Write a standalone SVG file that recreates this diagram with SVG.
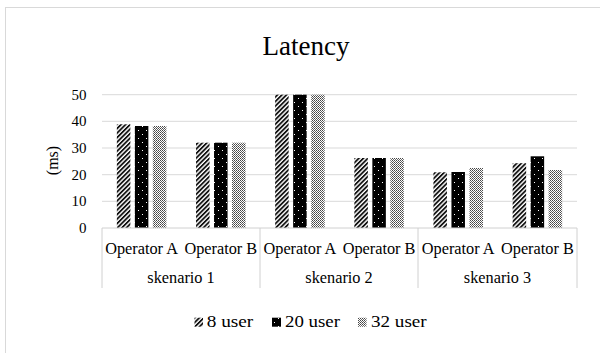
<svg xmlns="http://www.w3.org/2000/svg" width="600" height="353" viewBox="0 0 600 353" font-family="'Liberation Serif', 'Times New Roman', serif">
<style>
text{fill:#000}
.grid{stroke:#d9d9d9;stroke-width:1;fill:none}
.axis{stroke:#d0d0d0;stroke-width:1;fill:none}
.tick{font-size:15px;text-anchor:end}
.cat{font-size:16.3px;text-anchor:middle}
.leg{font-size:16.5px}
.s8{fill:url(#p8)}
.s20{fill:url(#p20)}
.s32{fill:url(#p32)}
</style>
<defs>
<pattern id="p8" patternUnits="userSpaceOnUse" width="3.2" height="3.2" patternTransform="rotate(45)">
<rect width="3.2" height="3.2" fill="#fff"/>
<rect width="1.8" height="3.2" fill="#111"/>
</pattern>
<pattern id="p20" patternUnits="userSpaceOnUse" width="8" height="8">
<rect width="8" height="8" fill="#000"/>
<rect x="2" y="2" width="1" height="1" fill="#fff"/>
<rect x="6" y="6" width="1" height="1" fill="#fff"/>
</pattern>
<pattern id="p32" patternUnits="userSpaceOnUse" width="2" height="2">
<rect width="2" height="2" fill="#fff"/>
<rect width="1" height="1" fill="#444"/>
<rect x="1" y="1" width="1" height="1" fill="#666"/>
</pattern>
</defs>
<rect x="0" y="0" width="600" height="353" fill="#fff"/>
<rect x="5.5" y="7.5" width="620" height="360" fill="#fff" stroke="#d9d9d9" stroke-width="1"/>
<text id="title" x="306" y="54.5" font-size="27" text-anchor="middle">Latency</text>
<g id="gridlines">
<line class="grid" x1="102" y1="94.7" x2="577" y2="94.7"/>
<line class="grid" x1="102" y1="121.3" x2="577" y2="121.3"/>
<line class="grid" x1="102" y1="148" x2="577" y2="148"/>
<line class="grid" x1="102" y1="174.7" x2="577" y2="174.7"/>
<line class="grid" x1="102" y1="201.3" x2="577" y2="201.3"/>
</g>
<g id="y-axis">
<text class="tick" x="86.5" y="99.7">50</text>
<text class="tick" x="86.5" y="126.3">40</text>
<text class="tick" x="86.5" y="153">30</text>
<text class="tick" x="86.5" y="179.7">20</text>
<text class="tick" x="86.5" y="206.3">10</text>
<text class="tick" x="86.5" y="233">0</text>
<text x="0" y="0" font-size="16" text-anchor="middle" transform="translate(57.5,160.5) rotate(-90)">(ms)</text>
</g>
<g id="bars">
<rect class="s8" x="116.85" y="124.3" width="13.5" height="103.7"/>
<rect class="s20" x="134.85" y="126" width="13.5" height="102"/>
<rect class="s32" x="152.85" y="126" width="13.5" height="102"/>
<rect class="s8" x="196.05" y="142.7" width="13.5" height="85.3"/>
<rect class="s20" x="214.05" y="142.7" width="13.5" height="85.3"/>
<rect class="s32" x="232.05" y="142.7" width="13.5" height="85.3"/>
<rect class="s8" x="275.15" y="94.7" width="13.5" height="133.3"/>
<rect class="s20" x="293.15" y="94.7" width="13.5" height="133.3"/>
<rect class="s32" x="311.15" y="94.7" width="13.5" height="133.3"/>
<rect class="s8" x="354.35" y="158" width="13.5" height="70"/>
<rect class="s20" x="372.35" y="158" width="13.5" height="70"/>
<rect class="s32" x="390.35" y="158" width="13.5" height="70"/>
<rect class="s8" x="433.45" y="172.3" width="13.5" height="55.7"/>
<rect class="s20" x="451.45" y="172" width="13.5" height="56"/>
<rect class="s32" x="469.45" y="168" width="13.5" height="60"/>
<rect class="s8" x="512.65" y="163.2" width="13.5" height="64.8"/>
<rect class="s20" x="530.65" y="156.3" width="13.5" height="71.7"/>
<rect class="s32" x="548.65" y="170" width="13.5" height="58"/>
</g>
<g id="x-axis">
<line class="axis" x1="102" y1="228" x2="577" y2="228"/>
<line class="axis" x1="102" y1="228" x2="102" y2="288"/>
<line class="axis" x1="260" y1="228" x2="260" y2="288"/>
<line class="axis" x1="418" y1="228" x2="418" y2="288"/>
<line class="axis" x1="577" y1="228" x2="577" y2="288"/>
<text class="cat" x="141.6" y="254.3">Operator A</text>
<text class="cat" x="220.8" y="254.3">Operator B</text>
<text class="cat" x="299.9" y="254.3">Operator A</text>
<text class="cat" x="379.1" y="254.3">Operator B</text>
<text class="cat" x="458.2" y="254.3">Operator A</text>
<text class="cat" x="537.4" y="254.3">Operator B</text>
<text class="cat" x="181" y="282.7">skenario 1</text>
<text class="cat" x="339" y="282.7">skenario 2</text>
<text class="cat" x="497.5" y="282.7">skenario 3</text>
</g>
<g id="legend">
<rect class="s8" x="194.5" y="317.7" width="8.5" height="9"/>
<text class="leg" x="206.7" y="327" textLength="46.6" lengthAdjust="spacingAndGlyphs">8 user</text>
<rect class="s20" x="272" y="317.7" width="9" height="9"/>
<text class="leg" x="285" y="327" textLength="55" lengthAdjust="spacingAndGlyphs">20 user</text>
<rect class="s32" x="358" y="317.7" width="8.5" height="9"/>
<text class="leg" x="371" y="327" textLength="55.7" lengthAdjust="spacingAndGlyphs">32 user</text>
</g>
</svg>
